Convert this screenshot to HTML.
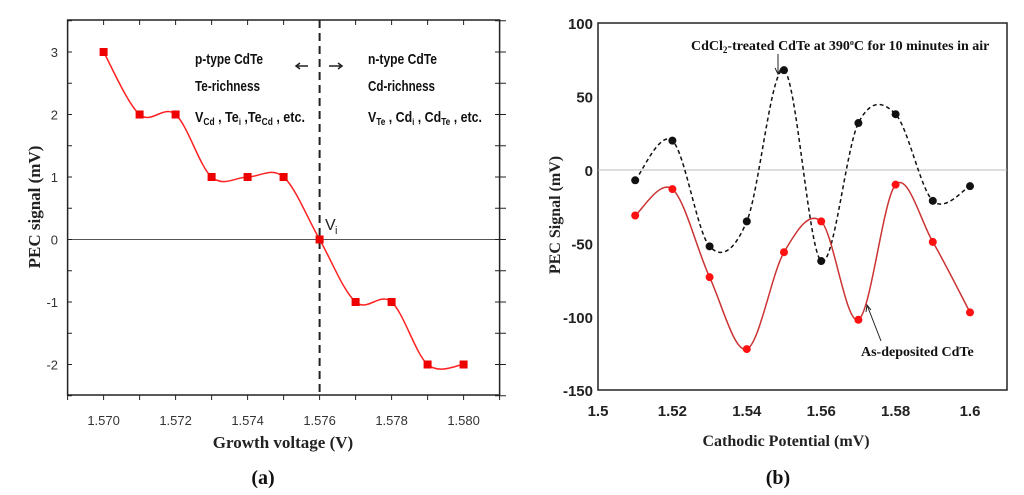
<!DOCTYPE html>
<html><head><meta charset="utf-8"><style>
body{margin:0;background:#fff;}
svg{display:block;}
text{font-family:"Liberation Sans",sans-serif;}
.serif{font-family:"Liberation Serif",serif;font-weight:bold;}
</style></head><body>
<svg id="s" width="1024" height="495" viewBox="0 0 1024 495"></svg>
<script>
const aX=[1.570,1.571,1.572,1.573,1.574,1.575,1.576,1.577,1.578,1.579,1.580];
const aY=[3,2,2,1,1,1,0,-1,-1,-2,-2];
const aXTicks=['1.570','1.572','1.574','1.576','1.578','1.580'];
const aYTicks=[3,2,1,0,-1,-2];
const bX=[1.51,1.52,1.53,1.54,1.55,1.56,1.57,1.58,1.59,1.60];
const bTreated=[-7,20,-52,-35,68,-62,32,38,-21,-11];
const bAsDep=[-31,-13,-73,-122,-56,-35,-102,-10,-49,-97];
const bXTicks=['1.5','1.52','1.54','1.56','1.58','1.6'];
const bYTicks=[100,50,0,-50,-100,-150];

const S=document.getElementById('s');const NS='http://www.w3.org/2000/svg';
function el(t,a,p){const e=document.createElementNS(NS,t);for(const k in a)e.setAttribute(k,a[k]);(p||S).appendChild(e);return e;}
function txt(x,y,s,a,p){const e=el('text',Object.assign({x:x,y:y},a||{}),p);e.textContent=s;return e;}
function smooth(pts){let d='M'+pts[0][0]+','+pts[0][1];for(let i=0;i<pts.length-1;i++){const p0=pts[i-1]||pts[i],p1=pts[i],p2=pts[i+1],p3=pts[i+2]||p2;
d+=' C'+(p1[0]+(p2[0]-p0[0])/6)+','+(p1[1]+(p2[1]-p0[1])/6)+' '+(p2[0]-(p3[0]-p1[0])/6)+','+(p2[1]-(p3[1]-p1[1])/6)+' '+p2[0]+','+p2[1];}return d;}

// Panel a
const ax=v=>103.6+(v-1.570)*36000, ay=v=>239.5-v*62.5;
const ga=el('g',{});
const fa=el('rect',{x:67.6,y:20,width:432,height:375,fill:'none',stroke:'#222','stroke-width':1.5},ga);

el('line',{x1:67.6,x2:499.6,y1:ay(0),y2:ay(0),stroke:'#555','stroke-width':1},ga);
for(let v=1.569;v<=1.5811;v+=0.001){const x=ax(v);el('line',{x1:x,x2:x,y1:395,y2:400,stroke:'#222'},ga);el('line',{x1:x,x2:x,y1:20,y2:25,stroke:'#222'},ga);}
aXTicks.forEach(t=>{const e=txt(ax(+t),425,t,{'text-anchor':'middle','font-size':13,fill:'#333'},ga);});
for(let v=-2.5;v<=3.51;v+=0.5){const y=ay(v);el('line',{x1:67.6,x2:72,y1:y,y2:y,stroke:'#222'},ga);el('line',{x1:495,x2:506,y1:y,y2:y,stroke:'#222'},ga);}
aYTicks.forEach(t=>{const e=txt(58,ay(t)+5,String(t),{'text-anchor':'end','font-size':13,fill:'#333'},ga);});
el('line',{x1:ax(1.576),x2:ax(1.576),y1:20,y2:395,stroke:'#222','stroke-width':2,'stroke-dasharray':'8,5'},ga);
const pa=aX.map((x,i)=>[ax(x),ay(aY[i])]);
el('path',{d:smooth(pa),fill:'none',stroke:'#f22','stroke-width':1.5},ga);
pa.forEach(p=>{const r=el('rect',{x:p[0]-4,y:p[1]-4,width:8,height:8,fill:'#e00'},ga);});
txt(325,230,'V',{'font-size':16,fill:'#222'},ga);txt(335,234,'i',{'font-size':11,fill:'#222'},ga);
const ann={'font-size':15,fill:'#111','font-weight':'bold',lengthAdjust:'spacingAndGlyphs'};
txt(195,64,'p-type CdTe',Object.assign({textLength:68},ann),ga);txt(195,91,'Te-richness',Object.assign({textLength:65},ann),ga);
const t1=txt(195,122,'',Object.assign({textLength:110},ann),ga);t1.innerHTML='V<tspan font-size="10" dy="3">Cd</tspan><tspan dy="-3"> , Te</tspan><tspan font-size="9" dy="3">i</tspan><tspan dy="-3"> ,Te</tspan><tspan font-size="10" dy="3">Cd</tspan><tspan dy="-3"> , etc.</tspan>';
txt(368,64,'n-type CdTe',Object.assign({textLength:69},ann),ga);txt(368,91,'Cd-richness',Object.assign({textLength:67},ann),ga);
const t2=txt(368,122,'',Object.assign({textLength:114},ann),ga);t2.innerHTML='V<tspan font-size="10" dy="3">Te</tspan><tspan dy="-3"> , Cd</tspan><tspan font-size="9" dy="3">i</tspan><tspan dy="-3"> , Cd</tspan><tspan font-size="10" dy="3">Te</tspan><tspan dy="-3"> , etc.</tspan>';
el('path',{d:'M308,66 L296,66 M300,63 L296,66 L300,69 M329,66 L342,66 M338,63 L342,66 L338,69',stroke:'#222','stroke-width':1.5,fill:'none'},ga);
txt(283,448,'Growth voltage (V)',{'text-anchor':'middle','font-size':17,'class':'serif',fill:'#222'},ga);
txt(40,207,'PEC signal (mV)',{'text-anchor':'middle','font-size':17,'class':'serif',fill:'#222',transform:'rotate(-90 40 207)'},ga);
txt(263,484,'(a)',{'text-anchor':'middle','font-size':20,'class':'serif',fill:'#111'},ga);

// Panel b
const bx=v=>598+(v-1.5)*3720, by=v=>170-v*1.468;
const gb=el('g',{});
const fb=el('rect',{x:598,y:23,width:409,height:367,fill:'none',stroke:'#222','stroke-width':1.5},gb);

el('line',{x1:598,x2:1007,y1:by(0),y2:by(0),stroke:'#bbb','stroke-width':1},gb);
bYTicks.forEach(t=>{const e=txt(593,by(t)+6,String(t),{'text-anchor':'end','font-size':15,'font-weight':'bold',fill:'#222'},gb);});
bXTicks.forEach(t=>{const e=txt(bx(+t),416,t,{'text-anchor':'middle','font-size':15,'font-weight':'bold',fill:'#222'},gb);});
const pt=bX.map((x,i)=>[bx(x),by(bTreated[i])]), pr=bX.map((x,i)=>[bx(x),by(bAsDep[i])]);
const l1=el('path',{d:smooth(pt),fill:'none',stroke:'#111','stroke-width':1.5,'stroke-dasharray':'4,3'},gb);

const l2=el('path',{d:smooth(pr),fill:'none',stroke:'#c33','stroke-width':1.5},gb);

pt.forEach(p=>{const c=el('circle',{cx:p[0],cy:p[1],r:4,fill:'#111'},gb);});
pr.forEach(p=>{const c=el('circle',{cx:p[0],cy:p[1],r:4,fill:'#f11'},gb);});
const lt=txt(691,50,'',{'font-size':14,'class':'serif',fill:'#111'},gb);lt.innerHTML='CdCl<tspan font-size="9" dy="3">2</tspan><tspan dy="-3">-treated CdTe at 390</tspan><tspan font-size="8" dy="-5">o</tspan><tspan dy="5">C for 10 minutes in air</tspan>';

el('path',{d:'M778,54 L778,74 M775,68 L778,74 L781,68',stroke:'#222',fill:'none'},gb);
const la=txt(861,356,'As-deposited CdTe',{'font-size':14,'class':'serif',fill:'#111'},gb);

el('path',{d:'M881,341 L867,305 M866,312 L867,305 L871,310',stroke:'#222',fill:'none'},gb);
txt(786,446,'Cathodic Potential (mV)',{'text-anchor':'middle','font-size':16,'class':'serif',fill:'#222'},gb);
txt(560,215,'PEC Signal (mV)',{'text-anchor':'middle','font-size':16,'class':'serif',fill:'#222',transform:'rotate(-90 560 215)'},gb);
txt(778,484,'(b)',{'text-anchor':'middle','font-size':20,'class':'serif',fill:'#111'},gb);
</script>
</body></html>
